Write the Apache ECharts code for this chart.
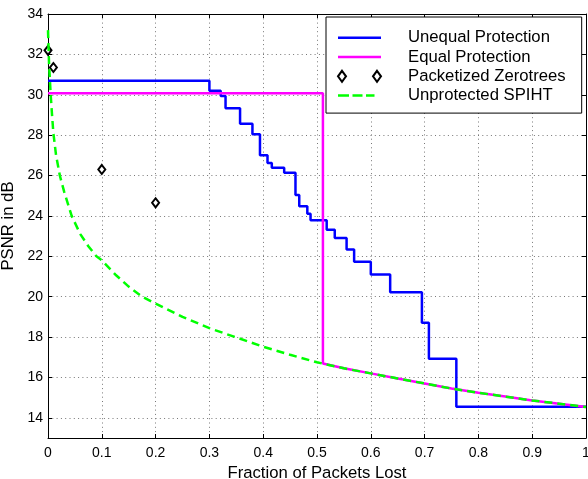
<!DOCTYPE html>
<html>
<head>
<meta charset="utf-8">
<script src="https://cdn.jsdelivr.net/npm/echarts@6/dist/echarts.min.js"></script>
<style>
  html, body { margin: 0; padding: 0; background: #fff; }
  #main { width: 588px; height: 479px; }
</style>
</head>
<body>
<div id="main"></div>
<script>
// unequal protection: step levels, each level starts at its x
var unequalX = [0, 0.3, 0.321, 0.330, 0.357, 0.380, 0.394, 0.408, 0.416, 0.439, 0.460, 0.467, 0.482, 0.488, 0.518, 0.533, 0.555, 0.569, 0.600, 0.636, 0.695, 0.708, 0.759, 1.0];
var unequalY = [30.7, 30.2, 29.94, 29.33, 28.57, 28.04, 27.01, 26.62, 26.39, 26.14, 25.03, 24.48, 24.11, 23.78, 23.31, 22.9, 22.34, 21.73, 21.1, 20.22, 18.71, 16.92, 14.55, 14.55];

// equal protection: flat then drops onto the unprotected curve
var equalX = [0, 0.511, 0.511];
var equalY = [30.08, 30.08, 16.69];

// packetized zerotrees
var zeroX = [0, 0.01, 0.1, 0.2];
var zeroY = [32.2, 31.35, 26.3, 24.65];

// unprotected SPIHT
var spihtX = [0, 0.002, 0.005, 0.0075, 0.01, 0.015, 0.022, 0.03, 0.044, 0.06, 0.075, 0.09, 0.1, 0.125, 0.15, 0.175, 0.2, 0.25, 0.3, 0.35, 0.4, 0.45, 0.5, 0.55, 0.6, 0.65, 0.7, 0.75, 0.8, 0.85, 0.9, 0.95, 1.0];
var spihtY = [33.2, 31.5, 30.0, 29.0, 28.1, 27.0, 26.0, 25.2, 24.0, 23.1, 22.5, 22.0, 21.8, 21.1, 20.5, 20.0, 19.66, 19.0, 18.44, 17.98, 17.52, 17.12, 16.75, 16.45, 16.2, 15.95, 15.7, 15.45, 15.24, 15.05, 14.86, 14.7, 14.53];

var names = ['Unequal Protection', 'Equal Protection', 'Packetized Zerotrees', 'Unprotected SPIHT'];

function pairs(xs, ys) {
  var out = [];
  for (var i = 0; i < xs.length; i++) out.push([xs[i], ys[i]]);
  return out;
}

var equalData = pairs(equalX, equalY);
for (var i = 0; i < spihtX.length; i++) {
  if (spihtX[i] > equalX[equalX.length - 1]) equalData.push([spihtX[i], spihtY[i]]);
}

var font = "'Liberation Sans', Arial, Helvetica, sans-serif";
var myChart = echarts.init(document.getElementById('main'), null, { renderer: 'canvas' });

// legend icons (43 x 11 box)
var solidIcon = 'path://M0,0L43,0L43,2.5L0,2.5Z';
var dashIcon = 'path://M0,0h11v2.5h-11z M14.5,0h10v2.5h-10z M28,0h8.5v2.5h-8.5z M43,0v2.5z';
var diamondIcon = 'path://M4,0L8,5.5L4,11L0,5.5Z M39,0L43,5.5L39,11L35,5.5Z';

var xBase = {
  type: 'value', min: 0, max: 1, interval: 0.1,
  axisLine: { show: true, onZero: false, lineStyle: { color: '#000', width: 1 } },
  axisTick: { show: true, inside: true, length: 4, lineStyle: { color: '#000' } }
};
var yBase = {
  type: 'value', min: 13, max: 34, splitNumber: 10,
  axisLine: { show: true, onZero: false, lineStyle: { color: '#000', width: 1 } },
  axisTick: { show: true, inside: true, length: 4, lineStyle: { color: '#000' } }
};

option = {
  backgroundColor: '#fff',
  animation: false,
  textStyle: { fontFamily: font },
  grid: { left: 48, right: 2, top: 14, bottom: 41, containLabel: false, outerBoundsMode: 'none' },
  legend: {
    orient: 'vertical',
    left: 326, top: 17,
    padding: [12.2, 16, 9, 11],
    itemGap: 2.3,
    itemWidth: 43, itemHeight: 11,
    borderColor: '#000', borderWidth: 1,
    backgroundColor: '#fff',
    textStyle: { fontFamily: font, fontSize: 16.7, color: '#000', padding: [0, 0, 0, 22] },
    data: [
      { name: names[0], icon: solidIcon },
      { name: names[1], icon: solidIcon },
      { name: names[2], icon: diamondIcon },
      { name: names[3], icon: dashIcon }
    ]
  },
  xAxis: [
    Object.assign({}, xBase, {
      position: 'bottom',
      name: 'Fraction of Packets Lost', nameLocation: 'middle', nameGap: 22,
      nameTextStyle: { fontFamily: font, fontSize: 16.7, color: '#000' },
      axisLabel: { color: '#000', fontSize: 14, fontFamily: font, margin: 8 },
      splitLine: { show: true, lineStyle: { color: '#777', width: 1, type: [1, 3.3] } }
    }),
    Object.assign({}, xBase, {
      position: 'top',
      axisLabel: { show: false },
      splitLine: { show: false }
    })
  ],
  yAxis: [
    Object.assign({}, yBase, {
      position: 'left',
      name: 'PSNR in dB', nameLocation: 'middle', nameGap: 25,
      nameTextStyle: { fontFamily: font, fontSize: 16.7, color: '#000' },
      axisLabel: { color: '#000', fontSize: 14, fontFamily: font, margin: 5, showMinLabel: false },
      splitLine: { show: true, lineStyle: { color: '#777', width: 1, type: [1, 3.3] } }
    }),
    Object.assign({}, yBase, {
      position: 'right',
      axisLabel: { show: false },
      splitLine: { show: false }
    })
  ],
  series: [
    {
      name: names[0], type: 'line', step: 'end',
      data: pairs(unequalX, unequalY),
      showSymbol: false, symbol: 'none',
      lineStyle: { color: '#0000ff', width: 2.5 },
      itemStyle: { color: '#0000ff' },
      z: 2
    },
    {
      name: names[1], type: 'line',
      data: equalData,
      showSymbol: false, symbol: 'none',
      lineStyle: { color: '#ff00ff', width: 2.5 },
      itemStyle: { color: '#ff00ff' },
      z: 3
    },
    {
      name: names[2], type: 'scatter',
      data: pairs(zeroX, zeroY),
      symbol: 'diamond', symbolSize: [7, 9],
      itemStyle: { color: '#fff', borderColor: '#000', borderWidth: 2, opacity: 1 },
      z: 4
    },
    {
      name: names[3], type: 'line',
      data: pairs(spihtX, spihtY),
      showSymbol: false, symbol: 'none',
      lineStyle: { color: '#00ff00', width: 2.5, type: [8, 5] },
      itemStyle: { color: '#00ff00' },
      z: 5
    }
  ]
};

myChart.setOption(option);
</script>
</body>
</html>
